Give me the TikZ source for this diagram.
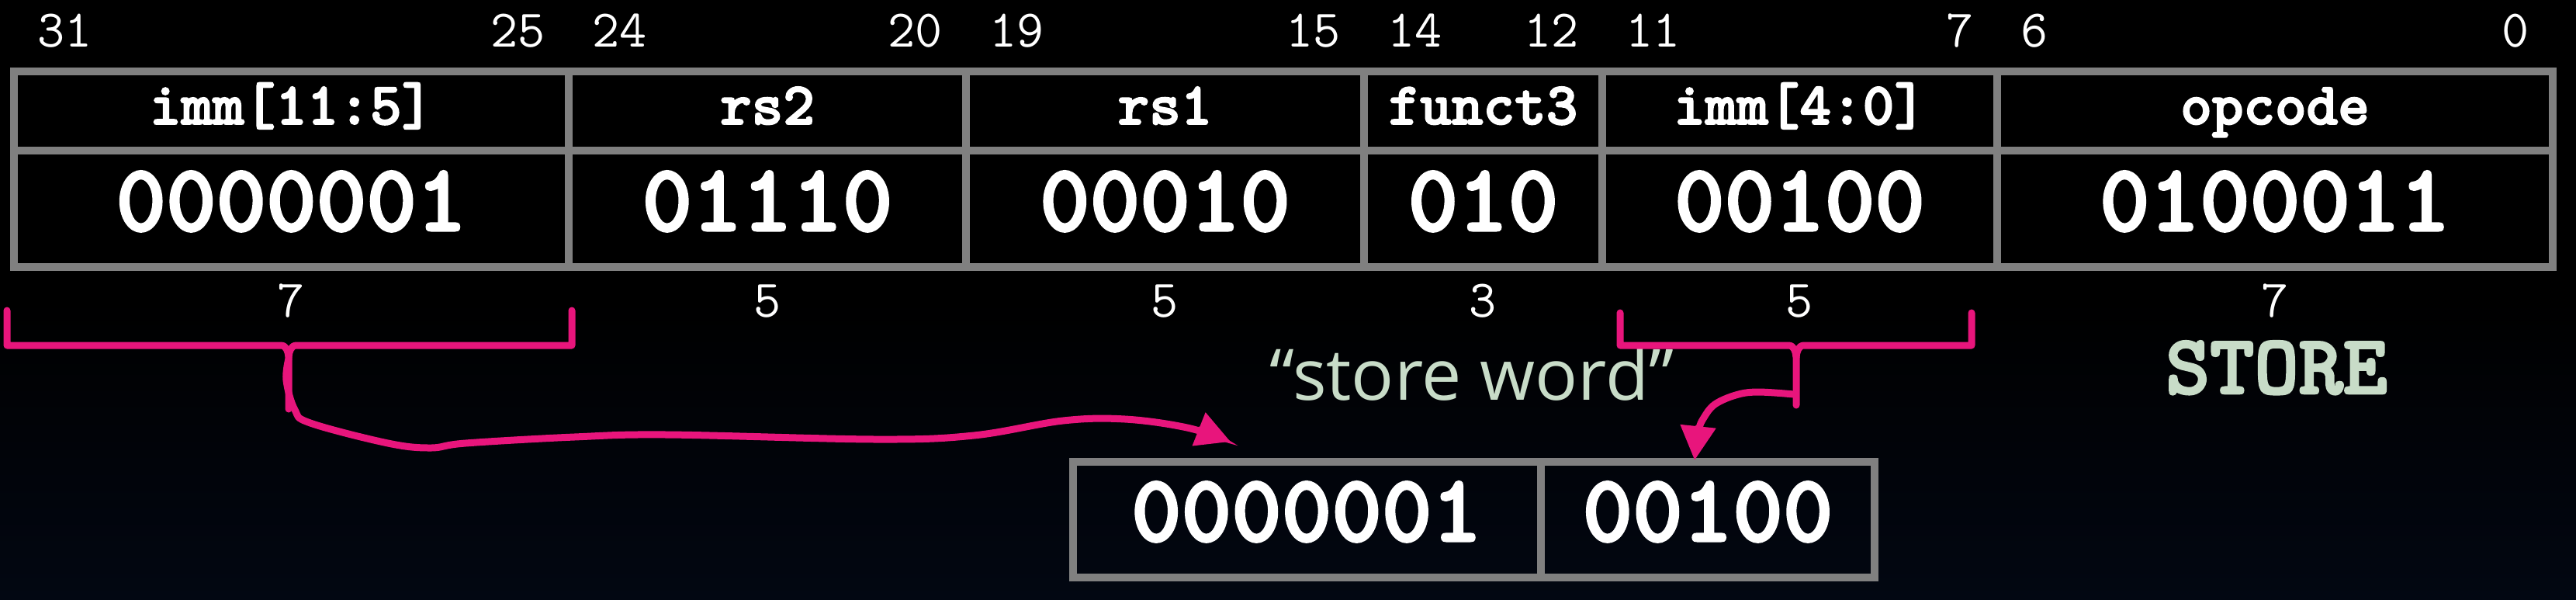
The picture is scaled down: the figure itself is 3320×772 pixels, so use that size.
\documentclass[tikz,border=0pt]{standalone}
\usepackage{fontspec}
\newfontfamily\notefont{Open Sans}
\newfontfamily\ttheavy{lmmonolt10-bold.otf}[FakeBold=2.5]
\usetikzlibrary{arrows.meta}
\definecolor{gridgray}{HTML}{808080}
\definecolor{annot}{HTML}{E8157C}
\definecolor{sage}{HTML}{C8DCC8}
\definecolor{bgbot}{HTML}{020712}

\begin{document}
\begin{tikzpicture}[
  x=0.1mm, y=-0.1mm,
  bitnum/.style={font=\ttfamily\fontsize{19.4}{19.4}\selectfont, text=white, inner sep=0pt},
  fieldlbl/.style={font=\ttheavy\fontsize{22}{22}\selectfont, text=white, inner sep=0pt, anchor=base},
  fieldval/.style={font=\ttheavy\fontsize{35}{35}\selectfont, text=white, inner sep=0pt, anchor=base},
  cellline/.style={draw=gridgray, line width=0.95mm},
  brace/.style={draw=annot, line width=0.9mm, line join=round, line cap=round},
  flow/.style={draw=annot, line width=0.9mm, line cap=round, -{Triangle[length=4.4mm, width=4.4mm]}},
  note/.style={text=sage, inner sep=0pt, anchor=base}
]
  \useasboundingbox (0,0) rectangle (3320,772);
  \shade[top color=black, bottom color=bgbot, middle color=black] (0,0) rectangle (3320,772);

  \foreach \xa/\xb/\fname/\fval/\hi/\lo/\nb [count=\i] in {
      18/733/{imm[11:5]}/0000001/31/25/7,
      733/1245/rs2/01110/24/20/5,
      1245/1758/rs1/00010/19/15/5,
      1758/2065/funct3/010/14/12/3,
      2065/2574/{imm[4:0]}/00100/11/7/5,
      2574/3290/opcode/0100011/6/0/7}{
    \draw[cellline] (\xa,92) rectangle (\xb,344) (\xa,194) -- (\xb,194);
    \node[bitnum, anchor=base west] (hi-\i) at (\xa+30,60) {\hi};
    \node[bitnum, anchor=base east] (lo-\i) at (\xb-30,60) {\lo};
    \node[fieldlbl] (name-\i) at ({(\xa+\xb)/2},160) {\fname};
    \node[fieldval] (val-\i) at ({(\xa+\xb)/2},297) {\fval};
    \node[bitnum, anchor=base] (len-\i) at ({(\xa+\xb)/2},408) {\nb};
  }

  \node[note, font=\notefont\fontsize{26}{26}\selectfont] (sw) at (1897,515) {“store word”};
  \node[note, font=\ttheavy\fontsize{31}{31}\selectfont] (store) at (2934,507) {STORE};

  \draw[cellline] (1383,595) rectangle (2416,744) (1986,595) -- (1986,744);
  \node[fieldval] (immhi) at (1684,697) {0000001};
  \node[fieldval] (immlo) at (2201,697) {00100};

  \draw[brace] (9,400) |- (362,445) to[out=0,in=95] (372,460) -- (372,527);
  \draw[brace] (737,400) |- (382,445) to[out=180,in=85] (372,460);
  \draw[brace] (2088,403) |- (2305,445) to[out=0,in=95] (2315,460) -- (2315,522);
  \draw[brace] (2541,403) |- (2325,445) to[out=180,in=85] (2315,460);

  \coordinate (fromA) at (372,462);
  \coordinate (toA) at (1586,569);
  \coordinate (fromB) at (2312,508);
  \coordinate (toB) at (2184,593);
  \draw[flow] plot[smooth, tension=0.6] coordinates {(fromA) (369,490) (380,528) (400,545) (500,571) (555,577) (600,571) (740,563) (860,560) (1130,566) (1255,561) (1370,542) (1450,540) (1530,551) (toA)};
  \draw[flow] plot[smooth, tension=0.6] coordinates {(fromB) (2265,505) (2237,509) (2210,521) (2196,538) (2189,555) (toB)};
\end{tikzpicture}
\end{document}
